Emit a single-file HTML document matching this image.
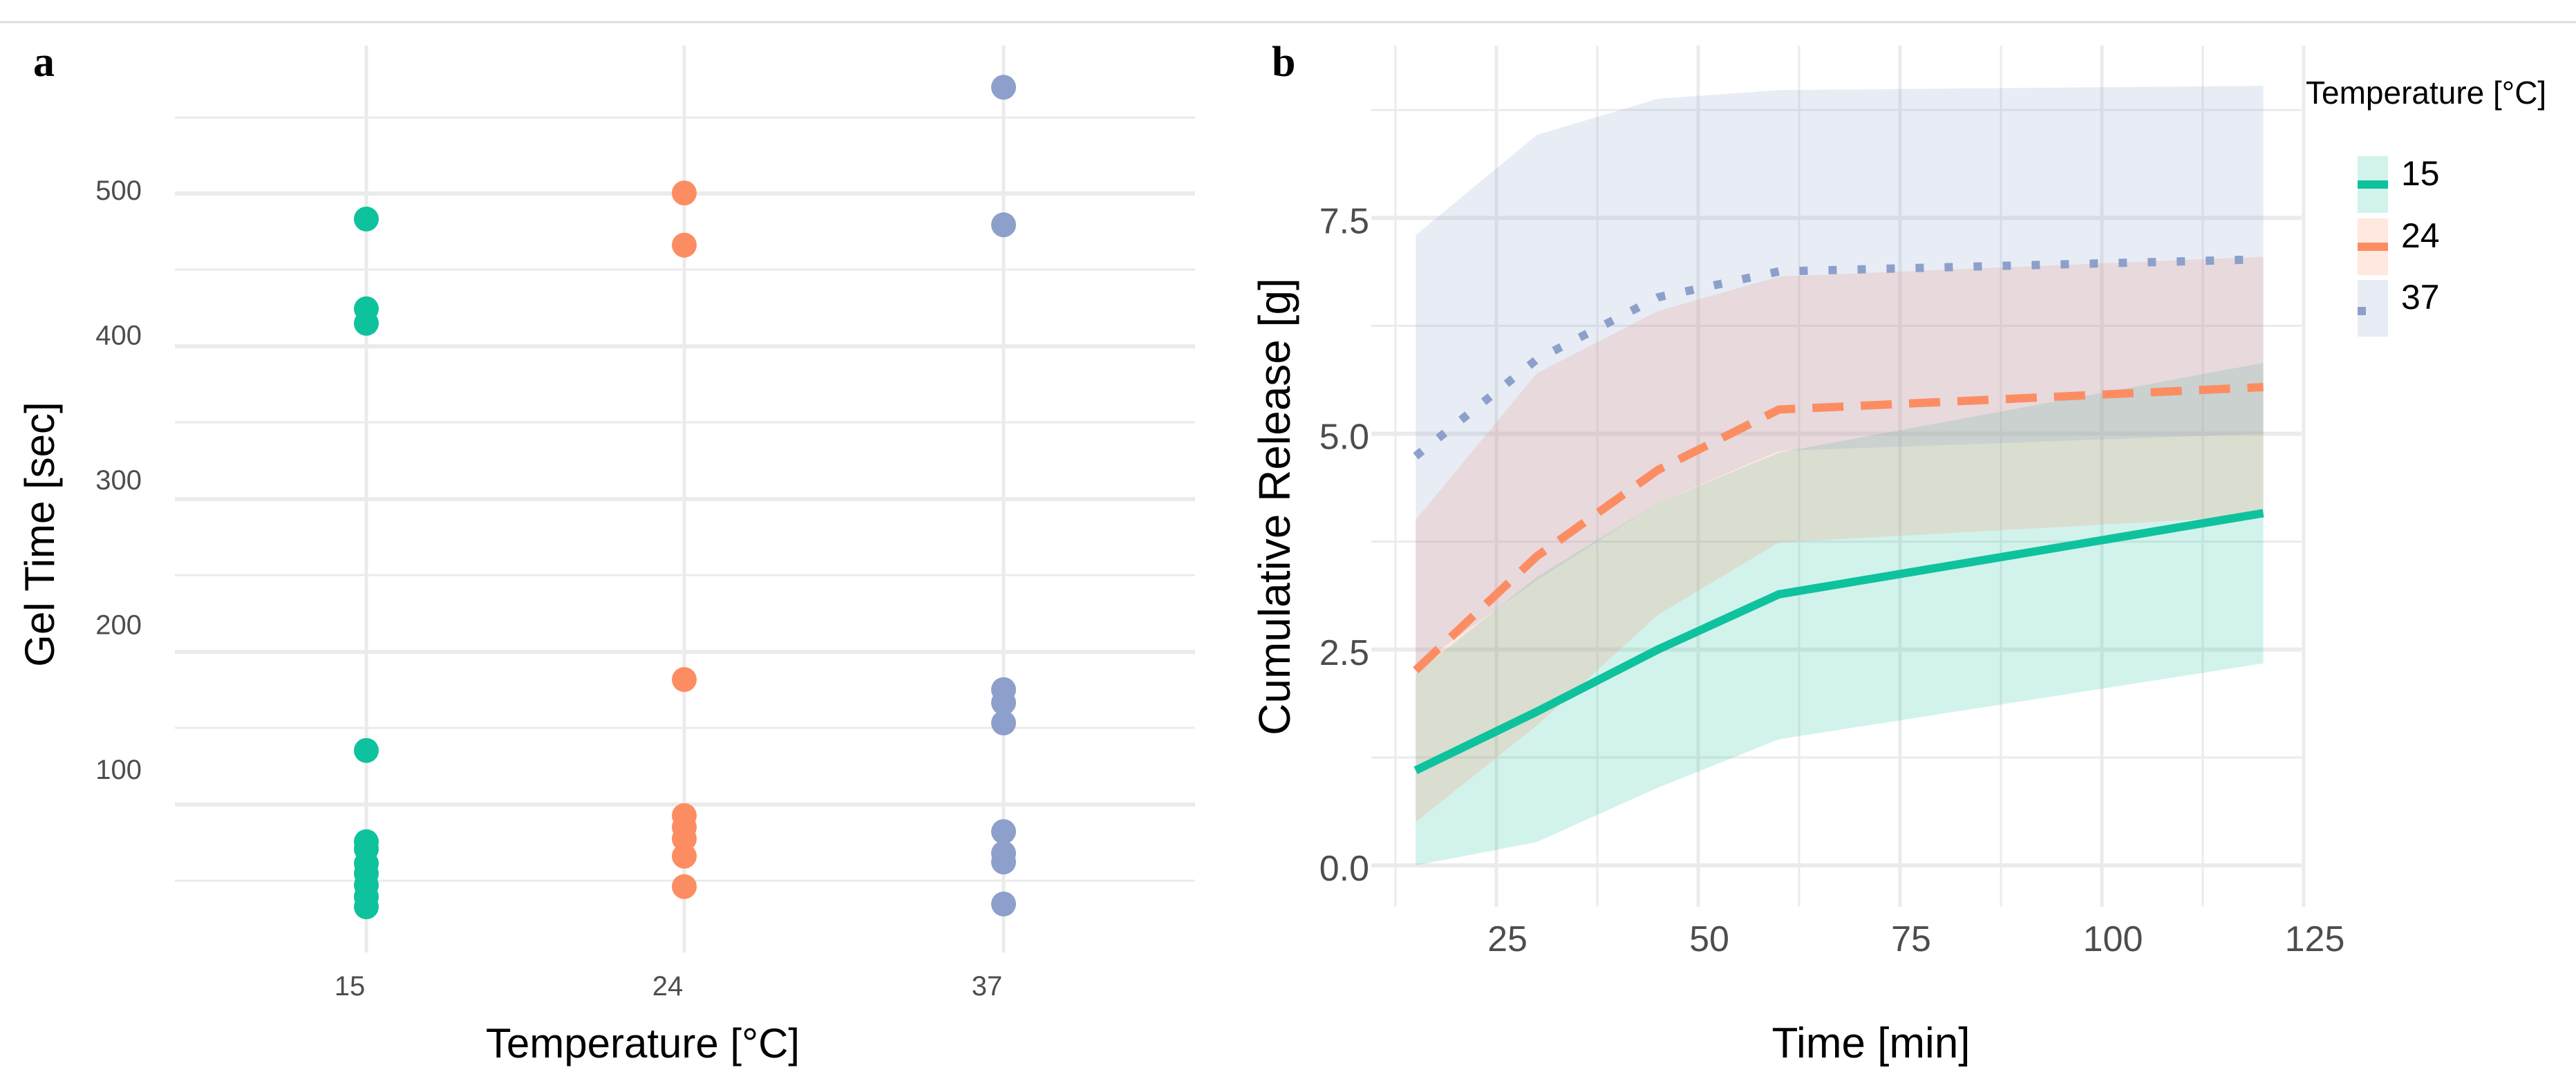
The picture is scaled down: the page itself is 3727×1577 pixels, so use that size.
<!DOCTYPE html>
<html><head><meta charset="utf-8">
<style>
html,body{margin:0;padding:0;background:#fff;}
body{width:3727px;height:1572px;overflow:hidden;}
svg text{font-family:"Liberation Sans",sans-serif;}
svg text.serif{font-family:"Liberation Serif",serif;}
</style></head>
<body>
<svg id="fig" width="3727" height="1572" viewBox="0 0 3727 1572" xmlns="http://www.w3.org/2000/svg">
<line x1="0" y1="32" x2="3727" y2="32" stroke="#dcdcdc" stroke-width="3"/>
<g id="pa"></g>
<g id="pb"></g>
</svg>
<script>
// ---- Panel a data ----
const catsA = ["15","24","37"];
const green15 = [480,418,408,113,50,45,35,28,20,12,5];
const orange24 = [498,462,162,68,60,52,40,19];
const blue37 = [571,476,155,146,132,57,42,36,7];
const yTicksA = [500,400,300,200,100];
const yMajorGridA = [497.6,392.1,286.6,181.1,75.7];
const yMinorGridA = [550.1,445.1,339.6,234.1,128.6,23.1];

// ---- Panel b data ----
const timesB = [15,30,45,60,120];
const line15 = [1.10,1.78,2.50,3.14,4.08];
const lo15 = [0.0,0.27,0.9,1.46,2.34];
const hi15 = [2.22,3.34,4.2,4.78,5.82];
const line24 = [2.26,3.58,4.58,5.28,5.54];
const lo24 = [0.5,1.62,2.9,3.74,4.05];
const hi24 = [4.0,5.7,6.42,6.82,7.05];
const line37 = [4.74,5.86,6.58,6.88,7.02];
const lo37 = [2.3,3.3,4.2,4.8,5.0];
const hi37 = [7.3,8.46,8.88,8.98,9.03];
const xTicksB = [25,50,75,100,125];
const xMinorB = [12.5,37.5,62.5,87.5,112.5];
const yTicksB = [0,2.5,5,7.5];
const yMinorB = [1.25,3.75,6.25,8.75];
const yTickLabelsB = ["0.0","2.5","5.0","7.5"];

const NS="http://www.w3.org/2000/svg";
function mk(parent,tag,attrs,text){const e=document.createElementNS(NS,tag);for(const k in attrs)e.setAttribute(k,attrs[k]);if(text!==undefined)e.textContent=text;parent.appendChild(e);return e;}

// ===== Panel a =====
const pa=document.getElementById('pa');
const xA = i => [530,990,1452][i];
const yA = v => 275+(500-v)*2.095;
let t=mk(pa,'text',{x:48,y:110,'font-size':62,'font-weight':'bold','class':'serif'},'a');


yMinorGridA.forEach(v=>{const l=mk(pa,'line',{x1:253,x2:1729,y1:yA(v),y2:yA(v),stroke:'#ebebeb','stroke-width':3});

});
yMajorGridA.forEach(v=>{const l=mk(pa,'line',{x1:253,x2:1729,y1:yA(v),y2:yA(v),stroke:'#ebebeb','stroke-width':6});

});
catsA.forEach((c,i)=>{const l=mk(pa,'line',{x1:xA(i),x2:xA(i),y1:66,y2:1378,stroke:'#ebebeb','stroke-width':5});


const tt=mk(pa,'text',{x:xA(i)-24,y:1440,'font-size':40,'text-anchor':'middle',fill:'#4d4d4d'},c);

});
yTicksA.forEach(v=>{const tt=mk(pa,'text',{x:205,y:yA(v)+14,'font-size':40,'text-anchor':'end',fill:'#4d4d4d'},String(v));

});
[[green15,'#0fc29e'],[orange24,'#fc8d62'],[blue37,'#8da0cb']].forEach((s,i)=>{s[0].forEach(v=>{const c=mk(pa,'ellipse',{cx:xA(i),cy:yA(v),rx:18,ry:18,fill:s[1]});

});});
t=mk(pa,'text',{x:930,y:1530,'font-size':60,'text-anchor':'middle'},'Temperature [°C]');


t=mk(pa,'text',{x:0,y:0,'font-size':60,'text-anchor':'middle',transform:'translate(78,773) rotate(-90)'},'Gel Time [sec]');



// ===== Panel b =====
const pb=document.getElementById('pb');
const xB = v => 2165+(v-25)*11.68;
const yB = v => 1252-v*124.9;
t=mk(pb,'text',{x:1840,y:110,'font-size':62,'font-weight':'bold','class':'serif'},'b');


yMinorB.forEach(v=>{const l=mk(pb,'line',{x1:1984,x2:3330,y1:yB(v),y2:yB(v),stroke:'#ebebeb','stroke-width':3});

});
yTicksB.forEach((v,i)=>{const l=mk(pb,'line',{x1:1984,x2:3330,y1:yB(v),y2:yB(v),stroke:'#ebebeb','stroke-width':6});


const tt=mk(pb,'text',{x:1981,y:yB(v)+22,'font-size':52,'text-anchor':'end',fill:'#4d4d4d'},yTickLabelsB[i]);

});
xMinorB.forEach(v=>{const l=mk(pb,'line',{x1:xB(v),x2:xB(v),y1:66,y2:1312,stroke:'#ebebeb','stroke-width':3});

});
xTicksB.forEach(v=>{const l=mk(pb,'line',{x1:xB(v),x2:xB(v),y1:66,y2:1312,stroke:'#ebebeb','stroke-width':5});


const tt=mk(pb,'text',{x:xB(v)+16,y:1376,'font-size':52,'text-anchor':'middle',fill:'#4d4d4d'},String(v));

});
function ribbon(lo,hi,col,name){let d='';timesB.forEach((tm,i)=>{d+=(i?'L':'M')+xB(tm)+','+yB(hi[i]);});
for(let i=timesB.length-1;i>=0;i--)d+='L'+xB(timesB[i])+','+yB(lo[i]);d+='Z';
const p=mk(pb,'path',{d:d,fill:col,'fill-opacity':0.2});

}
function line(vals,col,dash,name,cap){let d='';timesB.forEach((tm,i)=>{d+=(i?'L':'M')+xB(tm)+','+yB(vals[i]);});
const p=mk(pb,'path',{d:d,fill:'none',stroke:col,'stroke-width':12,'stroke-dasharray':dash,'stroke-linecap':cap,'stroke-linejoin':'round'});

}
ribbon(lo15,hi15,'#1dc29e','ribbon-15');
ribbon(lo24,hi24,'#fc8d62','ribbon-24');
ribbon(lo37,hi37,'#8da0cb','ribbon-37');
line(line15,'#0fc29e','none','line-15','butt');
line(line24,'#fc8d62','45 25','line-24','butt');
line(line37,'#8da0cb','12 30','line-37','butt');
t=mk(pb,'text',{x:2707,y:1530,'font-size':62,'text-anchor':'middle'},'Time [min]');


t=mk(pb,'text',{x:0,y:0,'font-size':64,'text-anchor':'middle',transform:'translate(1866,733) rotate(-90)'},'Cumulative Release [g]');


// legend
const lg=mk(pb,'g',{});


t=mk(lg,'text',{x:3336,y:150,'font-size':46},'Temperature [°C]');


[['15','#1dc29e','none',226],['24','#fc8d62','none',316],['37','#8da0cb','12 30',405]].forEach(e=>{
const r=mk(lg,'rect',{x:3411,y:e[3],width:44,height:82,fill:e[1],'fill-opacity':0.2});


const dash=e[0]==='37'?'12 40':'none';
mk(lg,'line',{x1:3411,x2:3455,y1:e[0]==='37'?e[3]+45:e[3]+41,y2:e[0]==='37'?e[3]+45:e[3]+41,stroke:e[0]==='15'?'#0fc29e':e[1],'stroke-width':12,'stroke-dasharray':dash});
const tt=mk(lg,'text',{x:3474,y:e[3]+42,'font-size':50},e[0]);

});
</script>
</body></html>
